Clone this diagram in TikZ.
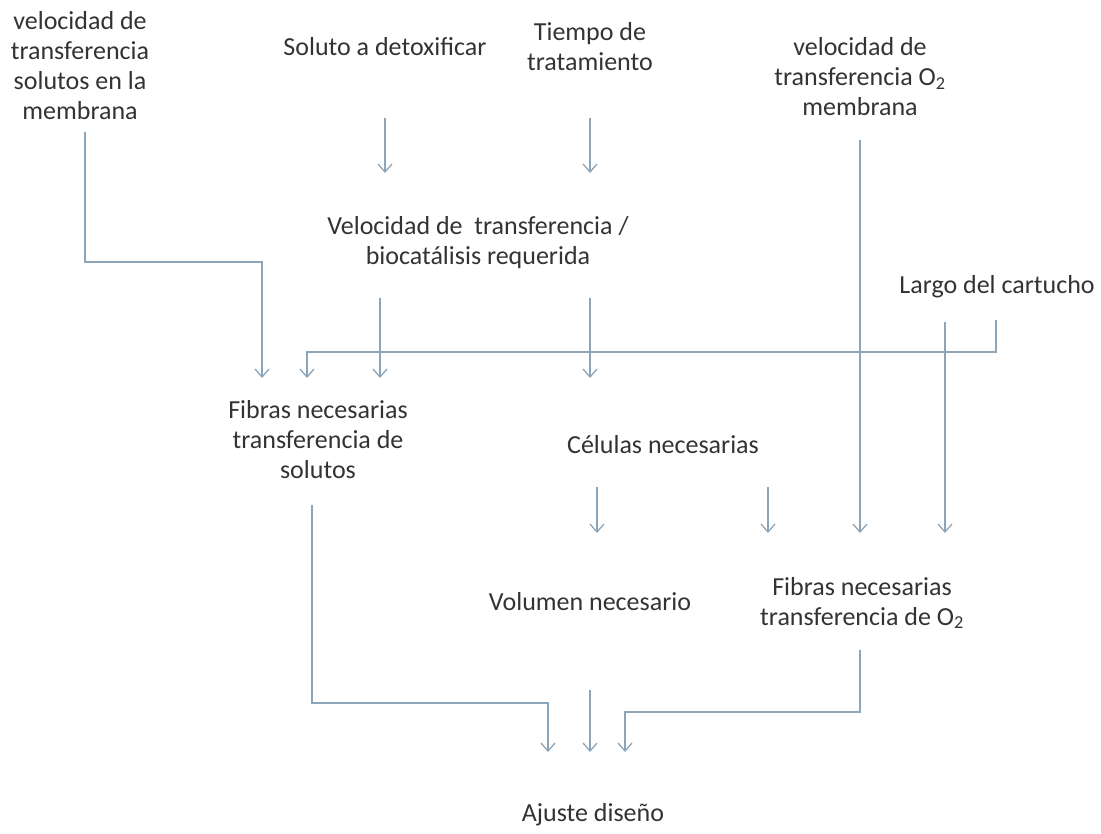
\documentclass[tikz,border=0pt]{standalone}
\usepackage{fontspec}
\setmainfont{Carlito}
\usetikzlibrary{arrows.meta}
\definecolor{linecol}{HTML}{8DA5B8}
\definecolor{txtcol}{HTML}{333333}

\begin{document}
\begin{tikzpicture}[x=1pt,y=-1pt,
  lbl/.style={align=center,inner sep=0pt,text=txtcol,font=\fontsize{26}{30}\selectfont},
  flow/.style={draw=linecol,line width=1.3pt,-{Straight Barb[length=8pt,width=14pt]}}]
  \useasboundingbox (0,0) rectangle (1101,834);
  % texts
  \node[lbl] (memb)   at (80,66)   {velocidad de\\transferencia\\solutos en la\\membrana};
  \node[lbl] (soluto) at (385,47)  {Soluto a detoxificar};
  \node[lbl] (tiempo) at (590,47)  {Tiempo de\\tratamiento};
  \node[lbl] (o2memb) at (860,77)  {velocidad de\\transferencia O\textsubscript{2}\\membrana};
  \node[lbl] (vel)    at (478,243) {Velocidad de\ \ transferencia /\\biocatálisis requerida};
  \node[lbl] (largo)  at (997,287) {Largo del cartucho};
  \node[lbl] (fsol)   at (318,440) {Fibras necesarias\\transferencia de\\solutos};
  \node[lbl] (cel)    at (663,445) {Células necesarias};
  \node[lbl] (vol)    at (590,602) {Volumen necesario};
  \node[lbl] (fo2)    at (862,603) {Fibras necesarias\\transferencia de O\textsubscript{2}};
  \node[lbl] (ajuste) at (593,815) {Ajuste diseño};
  % line ends
  \coordinate (membOut)   at (85,132);
  \coordinate (solutoOut) at (385,118);
  \coordinate (tiempoOut) at (590,118);
  \coordinate (o2Out)     at (860,140);
  \coordinate (velIn1)    at (385,173);
  \coordinate (velIn2)    at (590,173);
  \coordinate (velOut1)   at (380,298);
  \coordinate (velOut2)   at (590,298);
  \coordinate (largoOut1) at (996,320);
  \coordinate (largoOut2) at (945,322);
  \coordinate (fsolIn1)   at (262,378);
  \coordinate (fsolIn2)   at (307,378);
  \coordinate (fsolIn3)   at (380,378);
  \coordinate (celIn)     at (590,378);
  \coordinate (celOut1)   at (597,487);
  \coordinate (celOut2)   at (768,487);
  \coordinate (volIn)     at (597,533);
  \coordinate (fo2In1)    at (768,533);
  \coordinate (fo2In2)    at (860,533);
  \coordinate (fo2In3)    at (945,533);
  \coordinate (fsolOut)   at (312,505);
  \coordinate (volOut)    at (590,690);
  \coordinate (fo2Out)    at (860,650);
  \coordinate (ajIn1)     at (548,752);
  \coordinate (ajIn2)     at (590,752);
  \coordinate (ajIn3)     at (625,752);
  % rows of the elbows
  \coordinate (membRow)  at (0,262);
  \coordinate (largoRow) at (0,352);
  \coordinate (fsolRow)  at (0,703);
  \coordinate (fo2Row)   at (0,712);
  % connectors
  \draw[flow] (solutoOut) -- (velIn1);
  \draw[flow] (tiempoOut) -- (velIn2);
  \draw[flow] (membOut) |- (membRow -| fsolIn1) -- (fsolIn1);
  \draw[flow] (velOut1) -- (fsolIn3);
  \draw[flow] (velOut2) -- (celIn);
  \draw[flow] (largoOut1) |- (largoRow -| fsolIn2) -- (fsolIn2);
  \draw[flow] (largoOut2) -- (fo2In3);
  \draw[flow] (o2Out) -- (fo2In2);
  \draw[flow] (celOut1) -- (volIn);
  \draw[flow] (celOut2) -- (fo2In1);
  \draw[flow] (fsolOut) |- (fsolRow -| ajIn1) -- (ajIn1);
  \draw[flow] (volOut) -- (ajIn2);
  \draw[flow] (fo2Out) |- (fo2Row -| ajIn3) -- (ajIn3);
\end{tikzpicture}
\end{document}
